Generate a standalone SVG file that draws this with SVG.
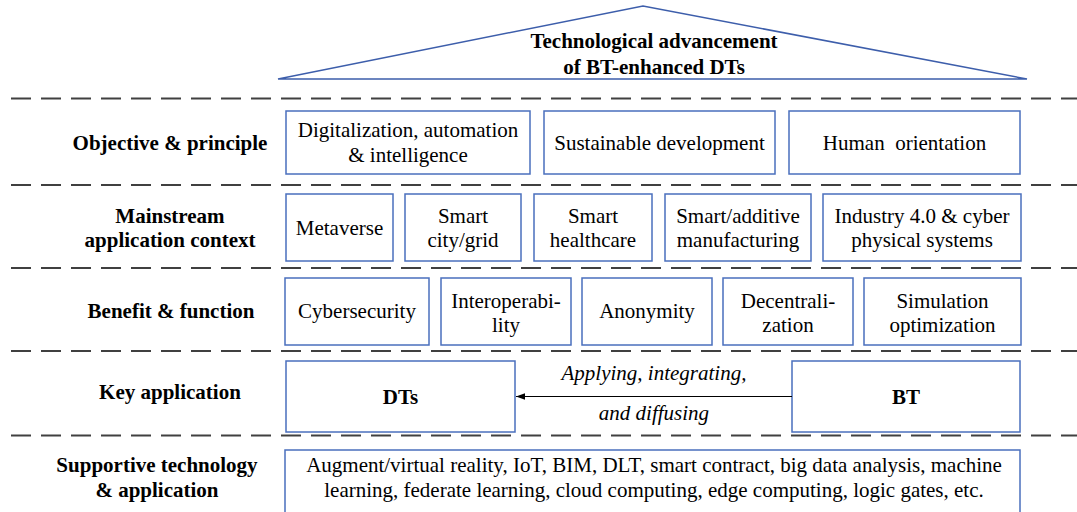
<svg xmlns="http://www.w3.org/2000/svg" width="1077" height="512" viewBox="0 0 1077 512">
<style>
text{font-family:'Liberation Serif','Times New Roman',Times,'DejaVu Serif',serif;font-size:21px;fill:#000;text-anchor:middle}
.b{font-weight:bold}
.i{font-style:italic}
.box{fill:#fff;stroke:#4a6fbd;stroke-width:1.5}
.dash{stroke:#404040;stroke-width:2;stroke-dasharray:20 10;fill:none}
</style>
<defs>
<marker id="ah" markerWidth="10" markerHeight="8" refX="9" refY="4" orient="auto" markerUnits="userSpaceOnUse">
<path d="M0,0.8 L9,4 L0,7.2 Z" fill="#000"/>
</marker>
</defs>
<rect width="1077" height="512" fill="#fff"/>

<g id="separators">
<line class="dash" x1="11" y1="98.5" x2="1077" y2="98.5"/>
<line class="dash" x1="11" y1="185" x2="1077" y2="185"/>
<line class="dash" x1="11" y1="268" x2="1077" y2="268"/>
<line class="dash" x1="11" y1="351" x2="1077" y2="351"/>
<line class="dash" x1="11" y1="435.5" x2="1077" y2="435.5"/>
</g>

<g font-family="Liberation Serif, serif">
<g id="roof">
<polygon points="278,79 643,6 1027,79" fill="#fff" stroke="#3d5eab" stroke-width="1.5"/>
<text class="b" x="654" y="48">Technological advancement</text>
<text class="b" x="654" y="74">of BT-enhanced DTs</text>
</g>

<g id="labels">
<text class="b" x="170" y="150">Objective &amp; principle</text>
<text class="b" x="170" y="223">Mainstream</text>
<text class="b" x="170" y="247">application context</text>
<text class="b" x="171" y="318">Benefit &amp; function</text>
<text class="b" x="170" y="399">Key application</text>
<text class="b" x="157" y="472">Supportive technology</text>
<text class="b" x="157" y="497">&amp; application</text>
</g>

<g id="obj-digitalization">
<rect class="box" x="286" y="111" width="244" height="63"/>
<text x="408" y="137">Digitalization, automation</text>
<text x="408" y="162">&amp; intelligence</text>
</g>
<g id="obj-sustainable">
<rect class="box" x="544" y="111" width="231" height="63"/>
<text x="659.5" y="150">Sustainable development</text>
</g>
<g id="obj-human">
<rect class="box" x="789" y="111" width="231" height="63"/>
<text x="904.5" y="150" style="white-space:pre">Human  orientation</text>
</g>

<g id="ctx-metaverse">
<rect class="box" x="286" y="194" width="107" height="67"/>
<text x="339.5" y="235">Metaverse</text>
</g>
<g id="ctx-city">
<rect class="box" x="405" y="194" width="116" height="67"/>
<text x="463" y="223">Smart</text>
<text x="463" y="247">city/grid</text>
</g>
<g id="ctx-health">
<rect class="box" x="534" y="194" width="118" height="67"/>
<text x="593" y="223">Smart</text>
<text x="593" y="247">healthcare</text>
</g>
<g id="ctx-manufacturing">
<rect class="box" x="665" y="194" width="146" height="67"/>
<text x="738" y="223">Smart/additive</text>
<text x="738" y="247">manufacturing</text>
</g>
<g id="ctx-industry">
<rect class="box" x="823" y="194" width="198" height="67"/>
<text x="922" y="223">Industry 4.0 &amp; cyber</text>
<text x="922" y="247">physical systems</text>
</g>

<g id="ben-cyber">
<rect class="box" x="285" y="278" width="144" height="67"/>
<text x="357" y="318">Cybersecurity</text>
</g>
<g id="ben-interop">
<rect class="box" x="441" y="278" width="130" height="67"/>
<text x="506" y="308">Interoperabi-</text>
<text x="506" y="332">lity</text>
</g>
<g id="ben-anon">
<rect class="box" x="582" y="278" width="130" height="67"/>
<text x="647" y="318">Anonymity</text>
</g>
<g id="ben-decentral">
<rect class="box" x="723" y="278" width="130" height="67"/>
<text x="788" y="308">Decentrali-</text>
<text x="788" y="332">zation</text>
</g>
<g id="ben-sim">
<rect class="box" x="864" y="278" width="157" height="67"/>
<text x="942.5" y="308">Simulation</text>
<text x="942.5" y="332">optimization</text>
</g>

<g id="key-dts">
<rect class="box" x="286" y="361" width="229" height="71"/>
<text class="b" x="400.5" y="404">DTs</text>
</g>
<g id="key-bt">
<rect class="box" x="792" y="361" width="228" height="71"/>
<text class="b" x="906" y="404">BT</text>
</g>

<g id="connectors">
<line x1="792" y1="396.5" x2="516" y2="396.5" stroke="#000" stroke-width="1" marker-end="url(#ah)"/>
<text class="i" x="654" y="380">Applying, integrating,</text>
<text class="i" x="654" y="420">and diffusing</text>
</g>

<g id="support">
<rect class="box" x="285" y="450" width="735" height="80"/>
<text x="654" y="472">Augment/virtual reality, IoT, BIM, DLT, smart contract, big data analysis, machine</text>
<text x="654" y="497">learning, federate learning, cloud computing, edge computing, logic gates, etc.</text>
</g>
</g>
</svg>
